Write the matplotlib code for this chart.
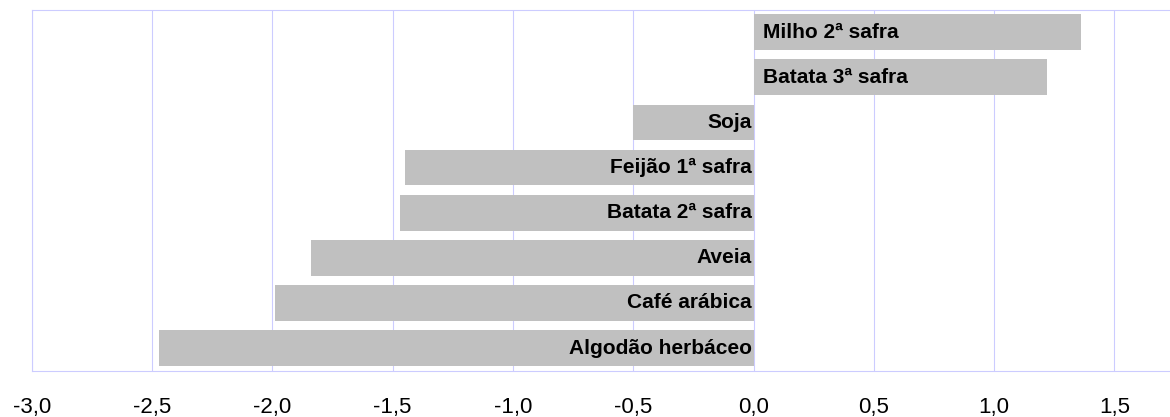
import matplotlib
matplotlib.use('Agg')
import matplotlib.pyplot as plt
from matplotlib.ticker import FuncFormatter

# dados (de baixo para cima)
culturas = ['Algodão herbáceo', 'Café arábica', 'Aveia', 'Batata 2ª safra',
            'Feijão 1ª safra', 'Soja', 'Batata 3ª safra', 'Milho 2ª safra']
valores = [-2.47, -1.99, -1.84, -1.47, -1.45, -0.50, 1.22, 1.36]
ticks = [-3.0, -2.5, -2.0, -1.5, -1.0, -0.5, 0.0, 0.5, 1.0, 1.5]

plt.rcParams['font.family'] = ['Liberation Sans', 'DejaVu Sans']
grade = '#CCCCFF'

fig = plt.figure(figsize=(11.7, 4.17), dpi=100)
ax = fig.add_axes([0.0271, 0.111, 0.9768, 0.8662])

pos = range(len(culturas))
ax.barh(pos, valores, height=0.79, color='#C0C0C0', zorder=2)

for i, (nome, v) in enumerate(zip(culturas, valores)):
    if v >= 0:
        ax.annotate(nome, (0, i), xytext=(6.5, 0), textcoords='offset points',
                    ha='left', va='center', fontsize=15, fontweight='bold', zorder=3)
    else:
        ax.annotate(nome, (0, i), xytext=(-1, 0), textcoords='offset points',
                    ha='right', va='center', fontsize=15, fontweight='bold', zorder=3)

ax.set_xlim(-3.0, 1.75)
ax.set_ylim(-0.5, len(culturas) - 0.5)
ax.set_xticks(ticks)
ax.xaxis.set_major_formatter(FuncFormatter(lambda x, p: f'{x:.1f}'.replace('.', ',')))
ax.set_yticks([])
ax.tick_params(axis='x', length=0, pad=19, labelsize=16)
ax.grid(axis='x', color=grade, linewidth=0.8, zorder=0)
for s in ax.spines.values():
    s.set_color(grade)
    s.set_linewidth(0.8)

fig.savefig('out.png', dpi=100)
